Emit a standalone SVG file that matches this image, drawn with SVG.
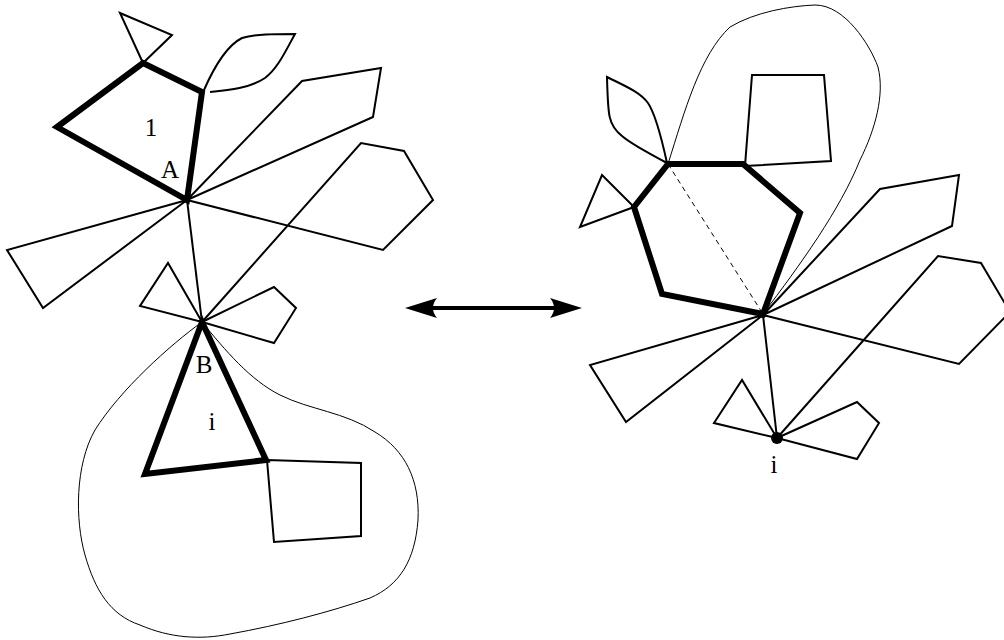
<svg xmlns="http://www.w3.org/2000/svg" width="1004" height="640" viewBox="0 0 1004 640">
<style>
.thin{fill:none;stroke:#000;stroke-width:2;stroke-linejoin:miter}
.thick{fill:none;stroke:#000;stroke-width:6;stroke-linejoin:miter}
.hair{fill:none;stroke:#000;stroke-width:1}
.dash{fill:none;stroke:#000;stroke-width:1;stroke-dasharray:5,4}
.lbl{font-family:"Liberation Serif","Times New Roman",serif;font-size:25px;fill:#000;text-anchor:middle}
</style>
<rect width="1004" height="640" fill="#fff"/>
<g id="left-figure">
  <path class="hair" d="M202,322 C170,345 120,390 95,430 C75,465 75,520 85,555 C95,590 110,615 140,625 C170,638 200,640 230,634 C280,625 330,612 370,598 C400,585 415,560 418,520 C420,480 405,450 375,432 C345,412 310,410 280,395 C250,380 225,350 202,322 Z"/>
  <polygon class="thin" points="143,63 120,13 172,35"/>
  <path class="thin" d="M204,90 C215,65 228,45 242,38 C255,34 275,34 295,34 C285,52 278,68 265,78 C250,88 230,90 210,92"/>
  <polygon class="thin" points="187,200 302,81 381,68 373,117"/>
  <polyline class="thin" points="187,200 383,250 433,200 404,151 361,143 202,322"/>
  <polygon class="thin" points="187,200 7,250 43,308"/>
  <line class="thin" x1="187" y1="200" x2="202" y2="322"/>
  <polygon class="thin" points="202,322 168,263 140,306"/>
  <polygon class="thin" points="202,322 274,287 296,308 274,343"/>
  <polygon class="thin" points="267,460 361,463 361,536 274,542"/>
  <polygon class="thick" points="187,200 202,92 143,63 57,127"/>
  <polygon class="thick" points="202,322 145,474 266,460"/>
  <circle cx="187" cy="200" r="3"/>
  <circle cx="202" cy="322" r="3"/>
  <text class="lbl" x="151" y="136">1</text>
  <text class="lbl" x="170" y="178">A</text>
  <text class="lbl" x="204" y="373">B</text>
  <text class="lbl" x="212" y="430">i</text>
</g>
<g id="right-figure">
  <path class="hair" d="M668,164 C685,110 700,55 730,27 C755,12 790,6 815,5 C845,5 870,45 878,67 C885,95 875,130 860,160 C840,210 800,265 763,314"/>
  <path class="thin" d="M607,77 C625,86 640,92 648,103 C656,115 662,140 667,163 C650,154 630,143 622,136 C608,125 608,115 607,77 Z"/>
  <polygon class="thin" points="634,207 602,175 580,227"/>
  <polygon class="thin" points="745,166 752,75 824,75 831,161"/>
  <polygon class="thin" points="763,315 880,189 959,175 952,226"/>
  <polyline class="thin" points="777,438 938,256 981,263 1010,312 959,364 763,315"/>
  <polygon class="thin" points="763,315 590,365 626,422"/>
  <line class="thin" x1="763" y1="315" x2="777" y2="438"/>
  <polygon class="thin" points="777,438 742,380 714,423"/>
  <polygon class="thin" points="777,438 857,402 879,423 857,459"/>
  <line class="dash" x1="668" y1="164" x2="763" y2="314"/>
  <polygon class="thick" points="763,314 662,294 634,207 668,164 743,164 800,213"/>
  <circle cx="763" cy="315" r="3"/>
  <circle cx="777" cy="438" r="6"/>
  <text class="lbl" x="774" y="473">i</text>
</g>
<g id="connectors">
  <line x1="428" y1="308" x2="560" y2="308" stroke="#000" stroke-width="4"/>
  <path d="M405,308 L437,298 Q429,308 437,318 Z" fill="#000"/>
  <path d="M582,308 L550,298 Q558,308 550,318 Z" fill="#000"/>
</g>
</svg>
